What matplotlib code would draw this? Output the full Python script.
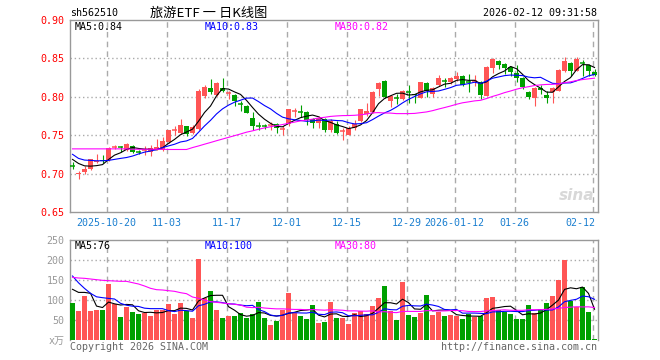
import numpy as np
import pandas as pd
import matplotlib
matplotlib.use("Agg")
import matplotlib.pyplot as plt

# daily K data, 88 trading days (2025-10-10 .. 2026-02-12)
opens = [0.7100, 0.6991, 0.7022, 0.7057, 0.7150, 0.7176, 0.7176, 0.7348, 0.7343, 0.7308,
         0.7361, 0.7282, 0.7304, 0.7286, 0.7317, 0.7308, 0.7405, 0.7560, 0.7529, 0.7617,
         0.7529, 0.7586, 0.8004, 0.8115, 0.8026, 0.8110, 0.8046, 0.8022, 0.7905, 0.7881,
         0.7718, 0.7619, 0.7619, 0.7628, 0.7648, 0.7584, 0.7652, 0.7813, 0.7808, 0.7802,
         0.7705, 0.7661, 0.7705, 0.7573, 0.7648, 0.7549, 0.7507, 0.7595, 0.7683, 0.7771,
         0.7806, 0.8101, 0.8207, 0.7947, 0.7980, 0.7969, 0.8059, 0.8030, 0.7985, 0.8180,
         0.8035, 0.8154, 0.8204, 0.8189, 0.8232, 0.8268, 0.8200, 0.8200, 0.8189, 0.8013,
         0.8377, 0.8461, 0.8430, 0.8386, 0.8311, 0.8241, 0.8066, 0.7982, 0.8114, 0.8022,
         0.8057, 0.8079, 0.8342, 0.8443, 0.8342, 0.8445, 0.8408, 0.8329]
highs = [0.7154, 0.7031, 0.7097, 0.7194, 0.7251, 0.7242, 0.7352, 0.7374, 0.7361, 0.7397,
         0.7374, 0.7308, 0.7361, 0.7374, 0.7449, 0.7476, 0.7573, 0.7617, 0.7705, 0.7626,
         0.7639, 0.8101, 0.8154, 0.8233, 0.8189, 0.8242, 0.8079, 0.8035, 0.7947, 0.7890,
         0.7806, 0.7674, 0.7652, 0.7674, 0.7661, 0.7617, 0.7846, 0.7859, 0.7890, 0.7815,
         0.7727, 0.7749, 0.7727, 0.7705, 0.7683, 0.7595, 0.7617, 0.7692, 0.7846, 0.7925,
         0.8079, 0.8198, 0.8216, 0.8022, 0.8035, 0.8088, 0.8154, 0.8040, 0.8198, 0.8189,
         0.8123, 0.8285, 0.8246, 0.8254, 0.8329, 0.8285, 0.8298, 0.8285, 0.8211, 0.8395,
         0.8504, 0.8474, 0.8439, 0.8399, 0.8408, 0.8254, 0.8079, 0.8123, 0.8154, 0.8079,
         0.8123, 0.8364, 0.8518, 0.8452, 0.8518, 0.8474, 0.8430, 0.8364]
lows = [0.7066, 0.6930, 0.7000, 0.7044, 0.7141, 0.7132, 0.7167, 0.7317, 0.7286, 0.7300,
        0.7273, 0.7251, 0.7242, 0.7229, 0.7308, 0.7300, 0.7397, 0.7507, 0.7520, 0.7493,
        0.7520, 0.7573, 0.7978, 0.8035, 0.8013, 0.8066, 0.7969, 0.7881, 0.7815, 0.7784,
        0.7573, 0.7573, 0.7582, 0.7573, 0.7529, 0.7502, 0.7617, 0.7740, 0.7740, 0.7630,
        0.7590, 0.7595, 0.7537, 0.7537, 0.7520, 0.7441, 0.7498, 0.7564, 0.7674, 0.7749,
        0.7793, 0.8013, 0.7978, 0.7868, 0.7903, 0.7960, 0.7925, 0.7925, 0.7982, 0.7991,
        0.7991, 0.8145, 0.8132, 0.8167, 0.8211, 0.8145, 0.8057, 0.8145, 0.7969, 0.8004,
        0.8311, 0.8364, 0.8298, 0.8276, 0.8189, 0.8101, 0.7969, 0.7882, 0.8035, 0.7925,
        0.7925, 0.8070, 0.8320, 0.8276, 0.8333, 0.8276, 0.8276, 0.8276]
closes = [0.7095, 0.7009, 0.7066, 0.7185, 0.7163, 0.7163, 0.7339, 0.7352, 0.7339, 0.7383,
          0.7286, 0.7278, 0.7308, 0.7330, 0.7348, 0.7419, 0.7564, 0.7564, 0.7639, 0.7520,
          0.7608, 0.8079, 0.8132, 0.8062, 0.8181, 0.8079, 0.8050, 0.7947, 0.7899, 0.7793,
          0.7617, 0.7615, 0.7615, 0.7632, 0.7595, 0.7588, 0.7837, 0.7817, 0.7804, 0.7692,
          0.7661, 0.7727, 0.7573, 0.7683, 0.7529, 0.7553, 0.7595, 0.7652, 0.7837, 0.7815,
          0.8066, 0.8181, 0.7991, 0.8013, 0.7976, 0.8079, 0.8055, 0.8020, 0.8190, 0.8079,
          0.8110, 0.8246, 0.8200, 0.8241, 0.8276, 0.8158, 0.8196, 0.8204, 0.8026, 0.8386,
          0.8487, 0.8408, 0.8373, 0.8320, 0.8241, 0.8123, 0.8000, 0.8110, 0.8092, 0.7982,
          0.8110, 0.8351, 0.8465, 0.8342, 0.8496, 0.8441, 0.8342, 0.8289]
volumes = [93.3, 72.5, 110.8, 72.5, 75.0, 75.0, 140.8, 89.0, 57.5, 82.5,
           70.0, 66.0, 67.5, 60.5, 75.0, 75.0, 90.0, 66.0, 92.5, 71.7,
           55.0, 202.5, 104.0, 122.5, 75.0, 55.0, 60.0, 60.0, 67.5, 55.0,
           65.0, 95.0, 55.0, 37.5, 47.5, 75.0, 118.0, 68.3, 60.0, 52.5,
           87.5, 42.5, 45.8, 95.8, 55.8, 55.8, 40.8, 68.3, 72.5, 65.8,
           85.8, 105.8, 135.8, 72.5, 50.0, 145.8, 62.5, 57.5, 68.3, 113.3,
           62.5, 70.8, 60.0, 62.5, 60.8, 52.5, 64.2, 58.3, 60.8, 105.0,
           107.5, 74.2, 70.8, 65.0, 52.5, 52.5, 87.5, 66.7, 78.3, 93.3,
           110.8, 150.0, 200.0, 98.3, 81.7, 131.7, 70.8, 2.5]

# moving-average values at the left edge (need history before the window)
price_ma5_head = [0.7185, 0.7132, 0.7101, 0.7097]
price_ma10_head = [0.7251, 0.7198, 0.7176, 0.7172, 0.7167, 0.7167, 0.7172, 0.7185, 0.7198]
price_ma30_head = [0.7322, 0.7322, 0.7322, 0.7322, 0.7322, 0.7322, 0.7322, 0.7322, 0.7322, 0.7322,
                   0.7317, 0.7317, 0.7317, 0.7317, 0.7317, 0.7317, 0.7314, 0.7314, 0.7314, 0.7314,
                   0.7339, 0.7360, 0.7383, 0.7405, 0.7428, 0.7450, 0.7472, 0.7494, 0.7516]
vol_ma5_head = [126.7, 119.0, 119.0, 116.7]
vol_ma10_head = [160.0, 143.0, 129.0, 116.7, 108.0, 105.8, 104.0, 102.5, 91.7]
vol_ma30_head = [156.7, 155.0, 154.2, 152.5, 150.8, 149.2, 148.3, 147.5, 146.7, 146.7,
                 143.3, 140.0, 135.0, 129.2, 125.8, 125.0, 123.3, 121.7, 118.3, 115.8,
                 107.5, 104.2, 100.0, 95.8, 94.2, 92.5, 90.8, 89.2, 87.5]

tick_pos = [6, 16, 26, 36, 46, 56, 64, 74, 87]
tick_labels = ['2025-10-20', '11-03', '11-17', '12-01', '12-15', '12-29',
               '2026-01-12', '01-26', '02-12']

UP = '#ff5555'
DOWN = '#00a000'
GRID = '#aaaaaa'
MONO = 'DejaVu Sans Mono'
FS = 7.2
LW = 0.8


def moving_avg(values, n, head):
    ma = pd.Series(values).rolling(n).mean().to_numpy()
    ma[:len(head)] = head
    return ma


W, H = 660, 360
fig = plt.figure(figsize=(W / 100, H / 100), dpi=100)
ax1 = fig.add_axes([70 / W, 1 - 212 / H, 528 / W, 192 / H])
ax2 = fig.add_axes([70 / W, 1 - 340 / H, 528 / W, 100 / H])

x = np.arange(len(closes))
colors = [UP if c >= o else DOWN for o, c in zip(opens, closes)]

# candles
for i in x:
    o, c = opens[i], closes[i]
    ax1.vlines(i, lows[i], highs[i], color=colors[i], lw=LW, zorder=3)
    if abs(c - o) < 0.001:
        ax1.hlines((o + c) / 2, i - 0.4, i + 0.4, color=colors[i], lw=1.1, zorder=3)
    else:
        ax1.bar(i, abs(c - o), bottom=min(o, c), width=0.8, color=colors[i],
                lw=0, zorder=3)

ax1.plot(x, moving_avg(closes, 5, price_ma5_head), color='black', lw=LW, zorder=4)
ax1.plot(x, moving_avg(closes, 10, price_ma10_head), color='#0000ff', lw=LW, zorder=4)
ax1.plot(x, moving_avg(closes, 30, price_ma30_head), color='#ff00ff', lw=LW, zorder=4)

ax2.bar(x, volumes, width=0.8, color=colors, lw=0, zorder=3)
ax2.plot(x, moving_avg(volumes, 5, vol_ma5_head), color='black', lw=LW, zorder=4)
ax2.plot(x, moving_avg(volumes, 10, vol_ma10_head), color='#0000ff', lw=LW, zorder=4)
ax2.plot(x, moving_avg(volumes, 30, vol_ma30_head), color='#ff00ff', lw=LW, zorder=4)

for ax in (ax1, ax2):
    ax.set_xlim(-0.42, 87.58)
    for p in tick_pos:
        ax.axvline(p - 0.3, color=GRID, lw=1, ls=(0, (4, 3)), zorder=1)
    for s in ax.spines.values():
        s.set_color('#999999')
        s.set_linewidth(1)
    ax.tick_params(length=0, pad=4)
    ax.set_xticks([])

ax1.set_ylim(0.65, 0.90)
price_ticks = [0.65, 0.70, 0.75, 0.80, 0.85, 0.90]
ax1.set_yticks(price_ticks)
ax1.set_yticklabels([f'{t:.2f}' for t in price_ticks], color='#ff0000',
                    fontsize=FS, family=MONO)
for t in price_ticks[1:-1]:
    ax1.axhline(t, color=GRID, lw=1, ls=(0, (1, 2)), zorder=1)

ax2.set_ylim(0, 250)
vol_ticks = [0, 50, 100, 150, 200, 250]
ax2.set_yticks(vol_ticks)
ax2.set_yticklabels(['x万'] + [str(t) for t in vol_ticks[1:]], color='#999999',
                    fontsize=FS, family=[MONO, 'Noto Sans CJK SC'])
ax2.spines['bottom'].set_visible(False)
for t in vol_ticks[1:-1]:
    ax2.axhline(t, color=GRID, lw=1, ls=(0, (1, 2)), zorder=1)

# date labels under the price panel
for p, lab in zip(tick_pos, tick_labels):
    ha = 'right' if p == tick_pos[-1] else 'center'
    xp = p + 0.1 if ha == 'right' else p - 0.3
    ax1.text(xp, -0.055, lab, transform=ax1.get_xaxis_transform(), ha=ha, va='center',
             color='#1a7fd0', fontsize=FS, family=MONO)


def ftext(px, py, s, **kw):
    fig.text(px / W, 1 - py / H, s, va='center', **kw)


ftext(70, 13, 'sh562510', fontsize=FS, family=MONO, color='black')
ftext(209, 13, '旅游ETF 一 日K线图', ha='center', fontsize=9.5,
      family=['Noto Sans CJK SC', 'DejaVu Sans'], color='black')
ftext(597, 13, '2026-02-12 09:31:58', ha='right', fontsize=FS, family=MONO, color='black')

ftext(75, 27, 'MA5:0.84', fontsize=FS, family=MONO, color='black')
ftext(205, 27, 'MA10:0.83', fontsize=FS, family=MONO, color='#0000ff')
ftext(335, 27, 'MA30:0.82', fontsize=FS, family=MONO, color='#ff00ff')

ftext(75, 246, 'MA5:76', fontsize=FS, family=MONO, color='black')
ftext(205, 246, 'MA10:100', fontsize=FS, family=MONO, color='#0000ff')
ftext(335, 246, 'MA30:80', fontsize=FS, family=MONO, color='#ff00ff')

ftext(594, 196, 'sina', ha='right', fontsize=11, style='italic', weight='bold',
      color='#d8d8d8')

ftext(70, 347, 'Copyright 2026 SINA.COM', fontsize=FS, family=MONO, color='#666666')
ftext(597, 347, 'http://finance.sina.com.cn', ha='right', fontsize=FS, family=MONO,
      color='#666666')

fig.savefig('out.png', dpi=100)
